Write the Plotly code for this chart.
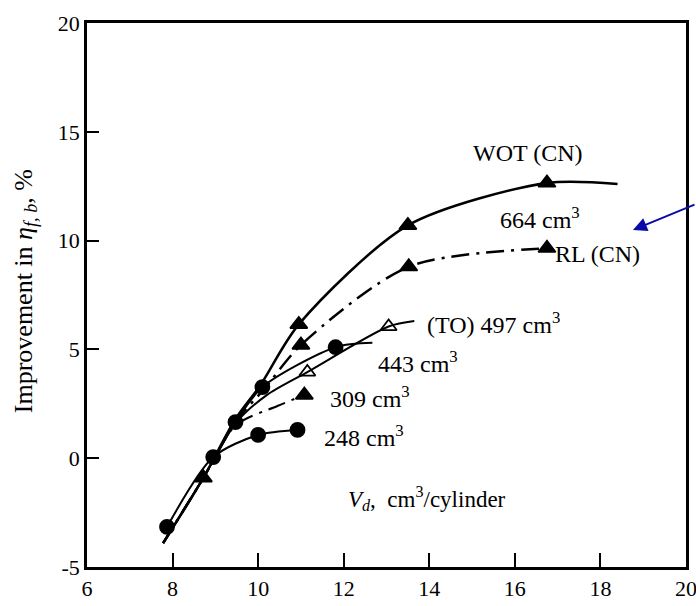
import plotly.graph_objects as go

# ---- data ----
wot_line_x = [7.78, 8.72, 9.47, 10.05, 10.95, 13.5, 16.75, 18.4]
wot_line_y = [-3.9, -0.9, 1.8, 3.35, 6.15, 10.7, 12.65, 12.6]
wot_mark_x = [8.72, 10.95, 13.5, 16.75]
wot_mark_y = [-0.9, 6.15, 10.7, 12.65]

rl_line_x = [7.78, 8.72, 9.47, 10.15, 11.0, 13.52, 16.75]
rl_line_y = [-3.9, -0.9, 1.66, 3.2, 5.2, 8.8, 9.65]
rl_mark_x = [11.0, 13.52, 16.75]
rl_mark_y = [5.2, 8.8, 9.65]

to497_line_x = [7.78, 8.72, 9.47, 10.2, 11.15, 13.05, 13.65]
to497_line_y = [-3.9, -0.9, 1.6, 2.9, 3.96, 6.05, 6.3]
to497_mark_x = [11.15, 13.05]
to497_mark_y = [3.96, 6.05]

c443_line_x = [7.78, 8.72, 9.47, 10.1, 11.81, 12.67]
c443_line_y = [-3.9, -0.9, 1.66, 3.27, 5.1, 5.3]
c443_mark_x = [9.47, 10.1, 11.81]
c443_mark_y = [1.66, 3.27, 5.1]

c309_line_x = [7.78, 8.72, 9.47, 10.45, 11.08]
c309_line_y = [-3.9, -0.9, 1.5, 2.4, 2.9]
c309_mark_x = [11.08]
c309_mark_y = [2.9]

c248_line_x = [7.87, 8.95, 10.0, 10.92]
c248_line_y = [-3.16, 0.05, 1.07, 1.3]
c248_mark_x = [7.87, 8.95, 10.0, 10.92]
c248_mark_y = [-3.16, 0.05, 1.07, 1.3]

x_ticks = [6, 8, 10, 12, 14, 16, 18, 20]
y_ticks = [-5, 0, 5, 10, 15, 20]

labels = ["WOT (CN)", "664 cm<sup>3</sup>", "RL (CN)", "(TO) 497 cm<sup>3</sup>",
          "443 cm<sup>3</sup>", "309 cm<sup>3</sup>", "248 cm<sup>3</sup>"]
label_x = [16.30, 16.58, 17.94, 15.51, 13.73, 12.61, 12.47]
label_y = [14.03, 11.04, 9.38, 6.21, 4.42, 2.81, 1.02]

FONT = "Liberation Serif, Times New Roman, serif"
DASHDOT = "18px,7px,3px,7px"

fig = go.Figure()

def add_series(lx, ly, mx, my, dash, symbol, msize, width=2.0):
    fig.add_trace(go.Scatter(x=lx, y=ly, mode="lines",
                             line=dict(color="black", width=width, dash=dash,
                                       shape="spline", smoothing=0.8),
                             showlegend=False, hoverinfo="skip"))
    fig.add_trace(go.Scatter(x=mx, y=my, mode="markers",
                             marker=dict(symbol=symbol, size=msize, color="black",
                                         line=dict(color="black", width=1.8)),
                             showlegend=False))

add_series(wot_line_x, wot_line_y, wot_mark_x, wot_mark_y, "solid", "triangle-up", 15, 2.5)
add_series(rl_line_x, rl_line_y, rl_mark_x, rl_mark_y, DASHDOT, "triangle-up", 15, 2.5)
add_series(to497_line_x, to497_line_y, to497_mark_x, to497_mark_y, "solid", "triangle-up-open", 14)
add_series(c443_line_x, c443_line_y, c443_mark_x, c443_mark_y, "solid", "circle", 14)
add_series(c309_line_x, c309_line_y, c309_mark_x, c309_mark_y, DASHDOT, "triangle-up", 15)
add_series(c248_line_x, c248_line_y, c248_mark_x, c248_mark_y, "solid", "circle", 14)

annotations = []
for t, x, y in zip(labels, label_x, label_y):
    annotations.append(dict(x=x, y=y, xref="x", yref="y", text=t, showarrow=False,
                            xanchor="center", yanchor="middle",
                            font=dict(family=FONT, size=24, color="black")))

annotations.append(dict(x=13.94, y=-1.83, xref="x", yref="y",
                        text="<i>V</i><sub><i>d</i></sub>,  cm<sup>3</sup>/cylinder",
                        showarrow=False, xanchor="center", yanchor="middle",
                        font=dict(family=FONT, size=23, color="black")))

annotations.append(dict(x=-0.1035, y=0.507, xref="paper", yref="paper",
                        text="Improvement in <i>η</i><sub><i>f, b</i></sub>, %",
                        textangle=-90, showarrow=False, xanchor="center", yanchor="middle",
                        font=dict(family=FONT, size=26, color="black")))

# blue arrow
annotations.append(dict(x=18.76, y=10.49, xref="x", yref="y", text="",
                        showarrow=True, arrowhead=2, arrowsize=1.4, arrowwidth=2,
                        arrowcolor="#0a0aa8", ax=72, ay=-26))

fig.update_layout(
    width=696, height=606,
    margin=dict(l=87, r=10, t=23, b=39, autoexpand=False),
    paper_bgcolor="white", plot_bgcolor="white",
    annotations=annotations,
    font=dict(family=FONT, size=22, color="black"),
)
fig.update_xaxes(range=[6, 20], tickvals=x_ticks, ticktext=[str(v) for v in x_ticks],
                 ticks="inside", ticklen=14, tickwidth=2, tickcolor="black",
                 showline=True, linewidth=2.5, linecolor="black", mirror=True,
                 showgrid=False, zeroline=False, automargin=False,
                 ticklabeloverflow="allow",
                 tickfont=dict(family=FONT, size=22, color="black"))
fig.update_yaxes(range=[-5, 20], tickvals=y_ticks, ticktext=[str(v) for v in y_ticks],
                 ticks="inside", ticklen=12, tickwidth=2, tickcolor="black",
                 showline=True, linewidth=2.5, linecolor="black", mirror=True,
                 showgrid=False, zeroline=False, automargin=False,
                 ticklabeloverflow="allow",
                 tickfont=dict(family=FONT, size=22, color="black"))

fig.write_html("out.html", config={"displayModeBar": False},
               post_script="document.body.style.margin='0';document.body.style.overflow='hidden';")
